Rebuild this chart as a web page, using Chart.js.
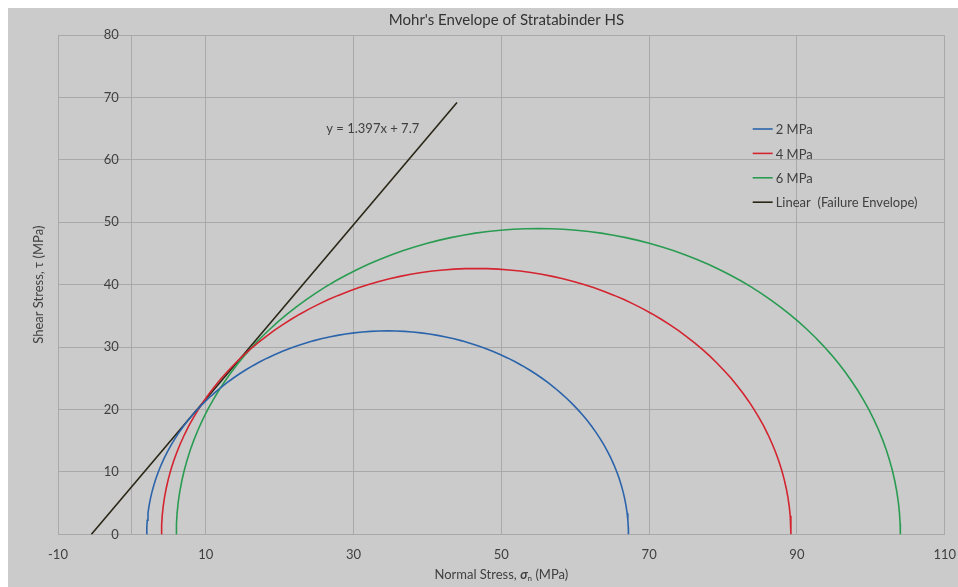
<!DOCTYPE html>
<html>
<head>
<meta charset="utf-8">
<title>Mohr's Envelope of Stratabinder HS</title>
<script src="https://cdn.jsdelivr.net/npm/chart.js@4/dist/chart.umd.min.js"></script>
<style>
  html, body { margin: 0; padding: 0; background: #ffffff; overflow: hidden; }
  body { padding: 8px 0 0 8px; }
  #mohr { display: block; background: #cbcbcb; }
</style>
</head>
<body>
<canvas id="mohr" width="950" height="579"></canvas>
<script>

/*****************************/
/************ DATI ***********/
/*****************************/

// pressione di confinamento (sigma 3) e rottura (sigma 1), MPa
var confiningStress = [2, 4, 6];
var peakStress = [67.2, 89.2, 104];
var circleLabels = ['2 MPa', '4 MPa', '6 MPa'];

// inviluppo di rottura (retta di tendenza), estremi
var envelopeX = [-5.5, 44];
var envelopeY = [0, 69.2];
var envelopeLabel = 'Linear  (Failure Envelope)';
var envelopeEquation = 'y = 1.397x + 7.7';
var equationAt = [32.6, 64.9];

// tick degli assi
var xTickValues = [-10, 10, 30, 50, 70, 90, 110];
var yTickValues = [0, 10, 20, 30, 40, 50, 60, 70, 80];

var chartTitle = "Mohr's Envelope of Stratabinder HS";
var yAxisTitle = 'Shear Stress, \u03c4 (MPa)';

/*****************************/
/********* PROGRAMMA *********/
/*****************************/

var FONT = 'Lato, "Open Sans", sans-serif';
var TEXT_COLOR = '#404040';
var GRID_COLOR = '#a9a9a9';
var circleColors = ['#2b64ab', '#d42430', '#2a9c52'];
var envelopeColor = '#2a2616';

// semicerchio di Mohr costruito da sigma3 / sigma1
function mohrSemicircle(s3, s1) {
  var center = (s1 + s3) / 2;
  var radius = (s1 - s3) / 2;
  var pts = [];
  for (var deg = 180; deg >= 0; deg -= 2) {
    var a = deg * Math.PI / 180;
    pts.push({ x: center + radius * Math.cos(a), y: radius * Math.sin(a) });
  }
  return pts;
}

var datasets = confiningStress.map(function (s3, i) {
  return {
    label: circleLabels[i],
    data: mohrSemicircle(s3, peakStress[i]),
    borderColor: circleColors[i],
    backgroundColor: circleColors[i],
    borderWidth: 1.6,
    showLine: true,
    pointRadius: 0,
    tension: 0
  };
});

datasets.push({
  label: envelopeLabel,
  data: envelopeX.map(function (x, i) { return { x: x, y: envelopeY[i] }; }),
  borderColor: envelopeColor,
  backgroundColor: envelopeColor,
  borderWidth: 1.6,
  showLine: true,
  pointRadius: 0
});

// legenda, titoli degli assi ed equazione disegnati sul canvas
var extrasPlugin = {
  id: 'mohrExtras',
  afterDraw: function (chart) {
    var ctx = chart.ctx;
    var area = chart.chartArea;
    var xs = chart.scales.x;
    var ys = chart.scales.y;
    ctx.save();

    // legenda
    var lx = area.right - 192;
    var ly = area.top + 94;
    ctx.font = '13px ' + FONT;
    ctx.textBaseline = 'middle';
    ctx.textAlign = 'left';
    chart.data.datasets.forEach(function (ds, i) {
      var y = ly + i * 24.4;
      ctx.strokeStyle = ds.borderColor;
      ctx.lineWidth = 1.6;
      ctx.beginPath();
      ctx.moveTo(lx, y);
      ctx.lineTo(lx + 20, y);
      ctx.stroke();
      ctx.fillStyle = TEXT_COLOR;
      ctx.fillText(ds.label, lx + 23, y + 1);
    });

    // equazione della retta
    ctx.textAlign = 'center';
    ctx.fillText(envelopeEquation, xs.getPixelForValue(equationAt[0]), ys.getPixelForValue(equationAt[1]));

    // titolo asse y
    ctx.save();
    ctx.translate(31, (area.top + area.bottom) / 2);
    ctx.rotate(-Math.PI / 2);
    ctx.fillText(yAxisTitle, 0, 0);
    ctx.restore();

    // titolo asse x con sigma corsivo e pedice n
    var parts = [
      { t: 'Normal Stress, ', f: '13px ' + FONT, dy: 0 },
      { t: '\u03c3', f: 'italic bold 13px ' + FONT, dy: 0 },
      { t: 'n', f: '8px ' + FONT, dy: 3 },
      { t: ' (MPa)', f: '13px ' + FONT, dy: 0 }
    ];
    var total = 0;
    parts.forEach(function (p) { ctx.font = p.f; p.w = ctx.measureText(p.t).width; total += p.w; });
    var tx = (area.left + area.right) / 2 - total / 2;
    ctx.textAlign = 'left';
    parts.forEach(function (p) {
      ctx.font = p.f;
      ctx.fillText(p.t, tx, 567 + p.dy);
      tx += p.w;
    });

    ctx.restore();
  }
};

var mohrChart = new Chart(document.getElementById('mohr'), {
  type: 'scatter',
  data: { datasets: datasets },
  options: {
    responsive: false,
    devicePixelRatio: 1,
    animation: false,
    layout: { padding: { left: 50, right: 3, top: 0, bottom: 22 } },
    plugins: {
      legend: { display: false },
      tooltip: { enabled: false },
      title: {
        display: true,
        text: chartTitle,
        color: '#333333',
        font: { family: FONT, size: 15, weight: 'normal' },
        padding: { top: 3, bottom: 6 }
      }
    },
    scales: {
      x: {
        type: 'linear',
        min: -10,
        max: 110,
        afterBuildTicks: function (axis) {
          axis.ticks = xTickValues.map(function (v) { return { value: v }; });
        },
        // tacche invisibili: danno lo spazio sotto l'asse senza allargare il margine destro
        grid: { color: GRID_COLOR, drawTicks: true, tickLength: 11, tickColor: 'rgba(0,0,0,0)' },
        border: { color: GRID_COLOR },
        ticks: { color: TEXT_COLOR, padding: 2, font: { family: FONT, size: 13 } }
      },
      y: {
        type: 'linear',
        min: 0,
        max: 80,
        position: { x: 0 },
        afterBuildTicks: function (axis) {
          axis.ticks = yTickValues.map(function (v) { return { value: v }; });
        },
        grid: { color: GRID_COLOR, drawTicks: false },
        border: { color: GRID_COLOR },
        ticks: {
          color: TEXT_COLOR,
          font: { family: FONT, size: 13 },
          // l'asse sta a x = 0: spazio a destra per staccare l'etichetta dall'asse
          callback: function (value) { return value + '\u2002\u2002'; }
        }
      }
    }
  },
  plugins: [extrasPlugin]
});

</script>
</body>
</html>
